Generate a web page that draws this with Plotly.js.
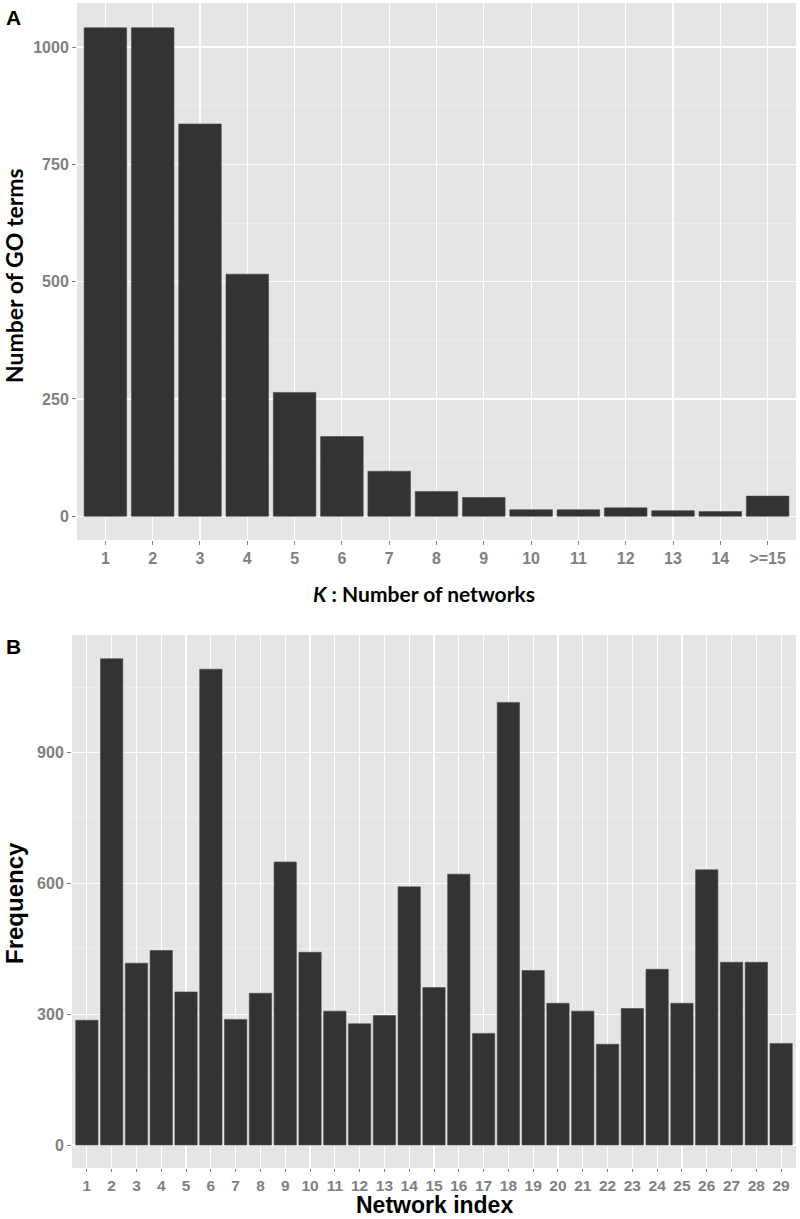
<!DOCTYPE html>
<html>
<head>
<meta charset="utf-8">
<script src="https://cdn.plot.ly/plotly-3.0.1.min.js"></script>
<style>html,body{margin:0;padding:0;background:#fff;}#chart{width:800px;height:1219px;}</style>
</head>
<body>
<div id="chart"></div>
<script>
// Panel A data
const kCategories = ['1','2','3','4','5','6','7','8','9','10','11','12','13','14','>=15'];
const goTermCounts = [1041,1041,836,516,264,170,96,53,40,14,14,18,12,10,43];
const aYTicks = [0,250,500,750,1000];
const aYMinor = [125,375,625,875];

// Panel B data
const networkIndex = ['1','2','3','4','5','6','7','8','9','10','11','12','13','14','15','16','17','18','19','20','21','22','23','24','25','26','27','28','29'];
const frequency = [286,1115,417,446,351,1091,288,348,649,442,307,278,297,592,361,621,256,1015,400,325,307,231,313,403,325,631,419,419,233];
const bYTicks = [0,300,600,900];
const bYMinor = [150,450,750,1050];

const H = 1219, W = 800;
const barColor = '#333333';
const tickFont = {family:'Liberation Sans, Arial, sans-serif', size:16, color:'#808080', weight:'bold'};
const tickFontSmall = {family:'Liberation Sans, Arial, sans-serif', size:15.5, color:'#808080', weight:'bold'};

const traces = [
  {type:'bar', x:kCategories, y:goTermCounts, xaxis:'x', yaxis:'y', width:0.9,
   marker:{color:barColor, line:{color:'#4a4a4a', width:0.6}}, hoverinfo:'x+y'},
  {type:'bar', x:networkIndex, y:frequency, xaxis:'x2', yaxis:'y2', width:0.9,
   marker:{color:barColor, line:{color:'#4a4a4a', width:0.6}}, hoverinfo:'x+y'}
];

function xAx(domain, n, anchor, font, tlen){
  return {domain:domain, anchor:anchor, type:'category', range:[-0.6, n-0.4],
    showgrid:true, gridcolor:'#FFFFFF', gridwidth:1.2, zeroline:false, showline:false,
    ticks:'outside', ticklen:tlen, tickwidth:1, tickcolor:'#7F7F7F', tickfont:font,
    fixedrange:true, automargin:false};
}
function yAx(domain, range, tv, minor, anchor){
  return {domain:domain, anchor:anchor, range:range, tickmode:'array', tickvals:tv,
    ticktext:tv.map(String),
    showgrid:true, gridcolor:'#FFFFFF', gridwidth:1.2, zeroline:false, showline:false,
    ticks:'outside', ticklen:4, tickwidth:1, tickcolor:'#7F7F7F', tickfont:tickFont,
    minor:{tickmode:'array', tickvals:minor, showgrid:true, gridcolor:'#F2F2F2', gridwidth:0.6, ticks:''},
    fixedrange:true, automargin:false};
}

const layout = {
  width:W, height:H,
  margin:{l:0,r:0,t:0,b:0},
  paper_bgcolor:'#FFFFFF', plot_bgcolor:'#E5E5E5',
  showlegend:false, bargap:0,
  xaxis: xAx([77/W, 796/W], kCategories.length, 'y', tickFont, 4),
  yaxis: yAx([1-540/H, 1-3/H], [-50.5, 1093.8], aYTicks, aYMinor, 'x'),
  xaxis2: xAx([72/W, 796/W], networkIndex.length, 'y2', tickFontSmall, 3),
  yaxis2: yAx([1-1168/H, 1-635/H], [-52.7, 1169.5], bYTicks, bYMinor, 'x2'),
  annotations:[
    {text:'A', xref:'paper', yref:'paper', x:4/W, y:1-17/H, xanchor:'left', yanchor:'middle', showarrow:false,
     font:{family:'Liberation Sans, Arial, sans-serif', size:21, color:'#000', weight:'bold'}},
    {text:'B', xref:'paper', yref:'paper', x:4/W, y:1-646/H, xanchor:'left', yanchor:'middle', showarrow:false,
     font:{family:'Liberation Sans, Arial, sans-serif', size:21, color:'#000', weight:'bold'}},
    {text:'Number of GO terms', xref:'paper', yref:'paper', x:14/W, y:1-276/H, xanchor:'center', yanchor:'middle',
     textangle:-90, showarrow:false, font:{family:'Lato, sans-serif', size:23, color:'#000', weight:'bold'}},
    {text:'<i>K</i> : Number of networks', xref:'paper', yref:'paper', x:424/W, y:1-593/H, xanchor:'center', yanchor:'middle',
     showarrow:false, font:{family:'Lato, sans-serif', size:21, color:'#000', weight:'bold'}},
    {text:'Frequency', xref:'paper', yref:'paper', x:14/W, y:1-903/H, xanchor:'center', yanchor:'middle',
     textangle:-90, showarrow:false, font:{family:'Liberation Sans, Arial, sans-serif', size:24, color:'#000', weight:'bold'}},
    {text:'Network index', xref:'paper', yref:'paper', x:434/W, y:0, xanchor:'center', yanchor:'bottom',
     borderpad:0, showarrow:false, font:{family:'Liberation Sans, Arial, sans-serif', size:23, color:'#000', weight:'bold'}}
  ]
};

Plotly.newPlot('chart', traces, layout, {displayModeBar:false, staticPlot:true});
</script>
</body>
</html>
